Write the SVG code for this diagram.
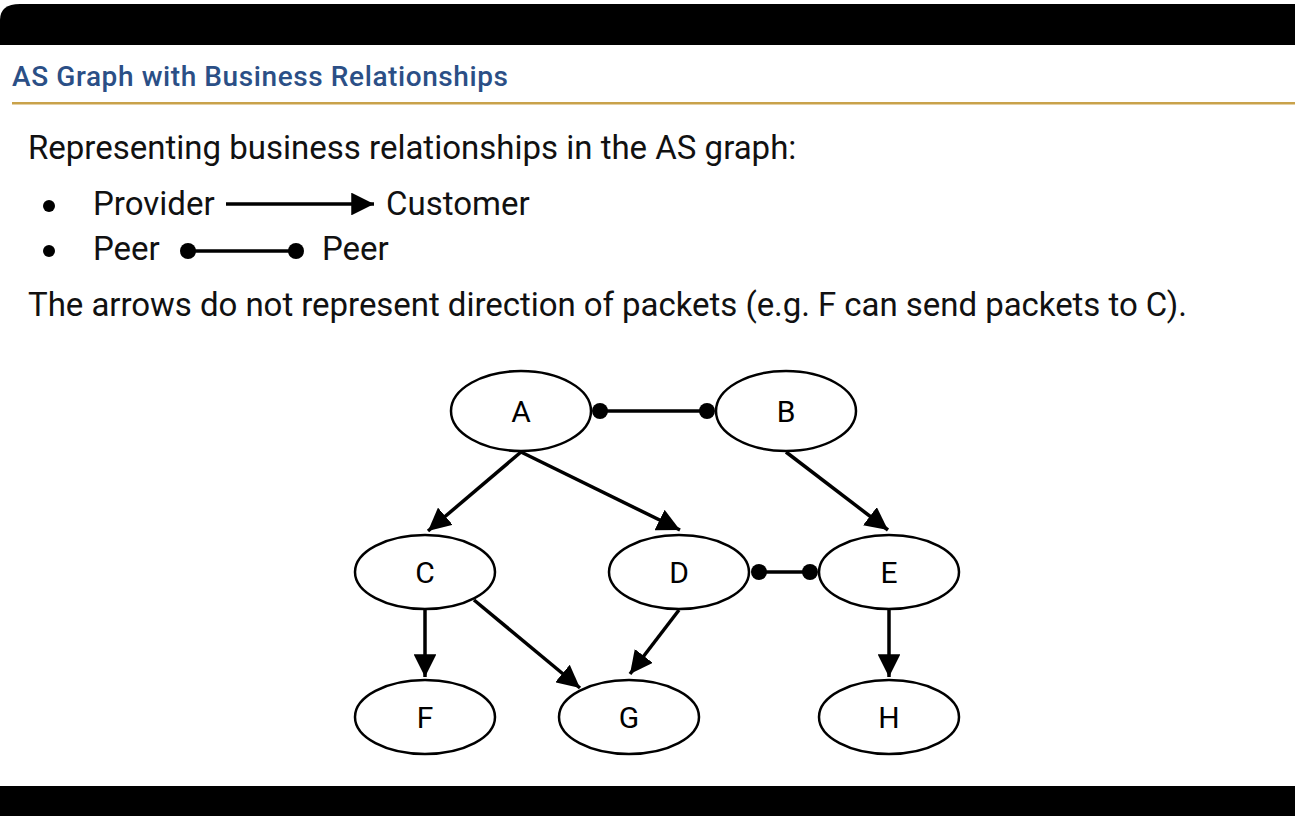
<svg xmlns="http://www.w3.org/2000/svg" width="1295" height="816" viewBox="0 0 1295 816">
<defs>
<marker id="arr" viewBox="0 0 10 10" refX="10" refY="5" markerWidth="6.5" markerHeight="6.5" markerUnits="strokeWidth" orient="auto"><path d="M0,0 L10,5 L0,10 z" fill="#000"/></marker>
</defs>
<style>
.t{font-family:Roboto,"Liberation Sans",sans-serif;fill:#111}
.n ellipse{fill:#fff;stroke:#000;stroke-width:2.5}
.n text{font-family:Roboto,"Liberation Sans",sans-serif;font-size:30px;text-anchor:middle;fill:#000}
.e{stroke:#000;stroke-width:3.5;fill:none}
</style>
<rect width="1295" height="816" fill="#fff"/>
<path d="M0,45 V20 Q0,4 20,4 H1295 V45 Z" fill="#000"/>
<rect x="0" y="786" width="1295" height="30" fill="#000"/>
<text x="12" y="86" textLength="496" style="font-family:Roboto,'Liberation Sans',sans-serif;font-size:28px;font-weight:500;fill:#2b4f86">AS Graph with Business Relationships</text>
<rect x="12" y="102" width="1283" height="2.5" fill="#c9a24a"/>
<text class="t" x="28" y="159" font-size="33">Representing business relationships in the AS graph:</text>
<circle cx="49" cy="206" r="6" fill="#000"/>
<text class="t" x="93" y="215" font-size="33">Provider</text>
<line x1="226" y1="204" x2="374" y2="204" class="e" stroke-width="3" marker-end="url(#arr)"/>
<text class="t" x="386" y="215" font-size="33">Customer</text>
<circle cx="49" cy="251" r="6" fill="#000"/>
<text class="t" x="93" y="260" font-size="33">Peer</text>
<line x1="188" y1="251" x2="296" y2="251" class="e" stroke-width="3"/>
<circle cx="188" cy="251" r="8" fill="#000"/><circle cx="296" cy="251" r="8" fill="#000"/>
<text class="t" x="322" y="260" font-size="33">Peer</text>
<text class="t" x="28" y="316" font-size="33" textLength="1159">The arrows do not represent direction of packets (e.g. F can send packets to C).</text>
<g id="connectors">
<line class="e" x1="521" y1="452" x2="428" y2="531" marker-end="url(#arr)"/>
<line class="e" x1="521" y1="452" x2="680" y2="530" marker-end="url(#arr)"/>
<line class="e" x1="786" y1="452" x2="888" y2="530" marker-end="url(#arr)"/>
<line class="e" x1="425" y1="609" x2="425" y2="677" marker-end="url(#arr)"/>
<line class="e" x1="474" y1="600" x2="580" y2="688" marker-end="url(#arr)"/>
<line class="e" x1="679" y1="610" x2="630" y2="674" marker-end="url(#arr)"/>
<line class="e" x1="889" y1="609" x2="889" y2="677" marker-end="url(#arr)"/>
<line class="e" x1="600" y1="411" x2="707" y2="411"/>
<circle cx="600" cy="411" r="8" fill="#000"/><circle cx="707" cy="411" r="8" fill="#000"/>
<line class="e" x1="759" y1="572" x2="810" y2="572"/>
<circle cx="759" cy="572" r="8" fill="#000"/><circle cx="810" cy="572" r="8" fill="#000"/>
</g>
<g id="A" class="n"><ellipse cx="521" cy="411" rx="70" ry="40"/><text x="521" y="422">A</text></g>
<g id="B" class="n"><ellipse cx="786" cy="411" rx="70" ry="40"/><text x="786" y="422">B</text></g>
<g id="C" class="n"><ellipse cx="425" cy="572" rx="70" ry="37"/><text x="425" y="583">C</text></g>
<g id="D" class="n"><ellipse cx="679" cy="572" rx="70" ry="37"/><text x="679" y="583">D</text></g>
<g id="E" class="n"><ellipse cx="889" cy="572" rx="70" ry="37"/><text x="889" y="583">E</text></g>
<g id="F" class="n"><ellipse cx="425" cy="717" rx="70" ry="37"/><text x="425" y="728">F</text></g>
<g id="G" class="n"><ellipse cx="629" cy="717" rx="70" ry="37"/><text x="629" y="728">G</text></g>
<g id="H" class="n"><ellipse cx="889" cy="717" rx="70" ry="37"/><text x="889" y="728">H</text></g>
</svg>
